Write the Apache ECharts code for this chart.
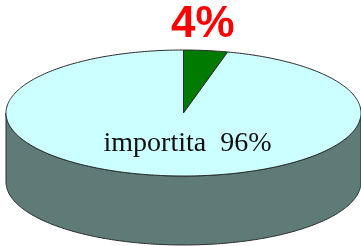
<!DOCTYPE html>
<html>
<head>
<meta charset="utf-8">
<script src="https://cdn.jsdelivr.net/npm/echarts@6/dist/echarts.min.js"></script>
<style>
  html, body { margin: 0; padding: 0; background: #fff; }
  #chart { width: 361px; height: 246px; }
</style>
</head>
<body>
<div id="chart"></div>
<script>
// fette della torta, partendo dalle 12 in senso orario
var categories = ['', 'importita']
var values = [4, 96]
var topColors = ['#007a00', '#ccffff']
var sideColors = ['#004d00', '#5f7b78']

var total = values.reduce(function (a, b) { return a + b }, 0)

var chart = echarts.init(document.getElementById('chart'))

// punto sull'ellisse, angolo in gradi dalle 12 in senso orario
function ellPt (g, deg, dy) {
  var r = deg * Math.PI / 180
  return [g.cx + g.rx * Math.sin(r), g.cy - g.ry * Math.cos(r) + (dy || 0)]
}

function renderSlice (params, api) {
  var g = { cx: 183.5, cy: 113, rx: 177.5, ry: 63, depth: 69 }
  var idx = params.dataIndex
  var start = 0
  for (var i = 0; i < idx; i++) start += values[i] / total * 360
  var end = start + api.value(1) / total * 360
  var children = []

  // lato (solo la metà davanti)
  var s = Math.max(start, 90)
  var e = Math.min(end, 270)
  if (e > s) {
    var side = []
    for (var a = s; a <= e; a += 1) side.push(ellPt(g, a))
    side.push(ellPt(g, e))
    for (var b = e; b >= s; b -= 1) side.push(ellPt(g, b, g.depth))
    side.push(ellPt(g, s, g.depth))
    children.push({
      type: 'polygon',
      shape: { points: side },
      style: { fill: sideColors[idx], stroke: '#2b2b2b', lineWidth: 1 }
    })
  }

  // faccia superiore
  var pts = [[g.cx, g.cy]]
  for (var t = start; t < end; t += 1) pts.push(ellPt(g, t))
  pts.push(ellPt(g, end))
  children.push({
    type: 'polygon',
    shape: { points: pts },
    style: { fill: topColors[idx], stroke: '#2b2b2b', lineWidth: 1 }
  })

  var name = categories[idx]
  var val = api.value(1)
  if (name) {
    children.push({
      type: 'text',
      style: {
        text: name + '  ' + val + '%',
        x: g.cx + 4, y: g.cy + 31,
        align: 'center', verticalAlign: 'middle',
        font: '28px "Liberation Serif", "Times New Roman", serif',
        fill: '#111'
      },
      z2: 10
    })
  } else {
    var mid = ellPt(g, (start + end) / 2)
    children.push({
      type: 'text',
      style: {
        text: val + '%',
        x: mid[0] - 3, y: mid[1] - 26,
        align: 'center', verticalAlign: 'middle',
        font: 'bold 44px "Liberation Sans", Arial, sans-serif',
        fill: '#ff0000'
      },
      z2: 10
    })
  }
  return { type: 'group', children: children }
}

var option = {
  animation: false,
  series: [{
    type: 'custom',
    coordinateSystem: 'none',
    renderItem: renderSlice,
    data: values.map(function (v, i) { return [i, v] })
  }]
}
chart.setOption(option)
</script>
</body>
</html>
